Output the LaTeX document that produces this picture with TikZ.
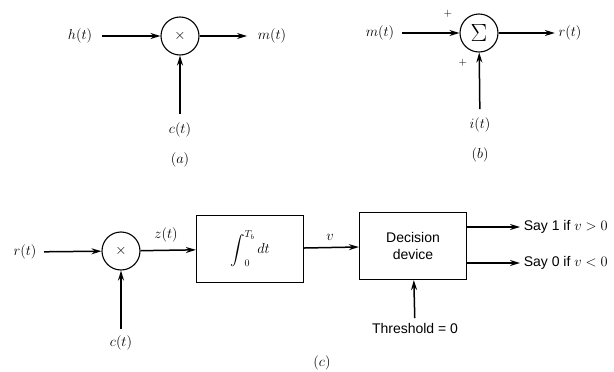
\documentclass[tikz,border=0pt]{standalone}
\usepackage{fontspec}
\usepackage{graphicx}
\newfontfamily\labelsans{Liberation Sans}
\usetikzlibrary{arrows.meta,positioning,calc}
\newcommand{\lblsize}{\fontsize{14}{17}\selectfont}
\newcommand{\bigint}{\mathop{\vcenter{\hbox{\scalebox{1.45}{$\displaystyle\int$}}}}\nolimits}

\begin{document}
\begin{tikzpicture}[x=1pt,y=-1pt,>={Stealth[length=10pt,width=6pt]},
    line width=1.5pt,
    mult/.style={circle,draw,line width=1.1pt,minimum size=38pt,inner sep=0pt},
    blk/.style={draw,line width=1.2pt,minimum width=107pt,minimum height=67pt,inner sep=2pt},
    sig/.style={inner sep=1pt,font=\lblsize},
    sanslbl/.style={inner sep=1pt,font=\labelsans\lblsize}]
    \useasboundingbox (0,0) rectangle (614,372);
    % (a) multiplier
    \node[mult,font=\lblsize] (mula) at (180,36) {$\times$};
    \node[sig] (ha) at (80,36) {$h(t)$};
    \node[sig] (ma) at (272,36) {$m(t)$};
    \node[sig] (ca) at (180,130) {$c(t)$};
    \node[sig] (capa) at (180,160) {$(a)$};
    \path[->]
        (ha) edge[shorten <=8pt] (mula)
        (mula) edge[shorten >=9pt] (ma)
        (ca) edge[shorten <=7pt] (mula);
    % (b) summer
    \node[mult,font=\fontsize{24}{26}\selectfont] (sumb) at (479,33) {$\Sigma$};
    \node[sig] (mb) at (380,33) {$m(t)$};
    \node[sig] (rb) at (570,33) {$r(t)$};
    \node[sig] (ib) at (480,125) {$i(t)$};
    \node[sig,font=\fontsize{11}{13}\selectfont] (plus1) at (448,14) {$+$};
    \node[sig,font=\fontsize{11}{13}\selectfont] (plus2) at (463,63) {$+$};
    \node[sig] (capb) at (480,155) {$(b)$};
    \path[->]
        (mb) edge[shorten <=6pt] (sumb)
        (sumb) edge[shorten >=2pt] (rb)
        (ib) edge[shorten <=7pt] (sumb);
    % (c) correlation receiver
    \node[mult,font=\lblsize] (mulc) at (121,251) {$\times$};
    \node[sig] (rc) at (25,252) {$r(t)$};
    \node[sig] (cc) at (121,343) {$c(t)$};
    \node[blk,font=\lblsize] (intg) at (250,249) {$\bigint_0^{T_b} dt$};
    \node[blk,font=\labelsans\lblsize,align=center] (dec) at (413,246) {Decision\\device};
    \node[sig] (zc) at (166,235) {$z(t)$};
    \node[sig] (vc) at (330,237) {$v$};
    \node[sanslbl,anchor=west] (say1) at (522,227) {Say 1 if $v>0$};
    \node[sanslbl,anchor=west] (say0) at (522,263) {Say 0 if $v<0$};
    \node[sanslbl] (thr) at (415,328) {Threshold = 0};
    \node[sig] (capc) at (322,363) {$(c)$};
    \path[->]
        (rc) edge[shorten <=6pt] (mulc)
        (mulc) edge (intg)
        (cc) edge[shorten <=5pt] (mulc)
        (intg) edge (dec)
        (dec.east |- say1) edge[shorten >=2pt] (say1)
        (dec.east |- say0) edge[shorten >=2pt] (say0)
        (thr) edge[shorten <=3pt] (dec);
\end{tikzpicture}
\end{document}
